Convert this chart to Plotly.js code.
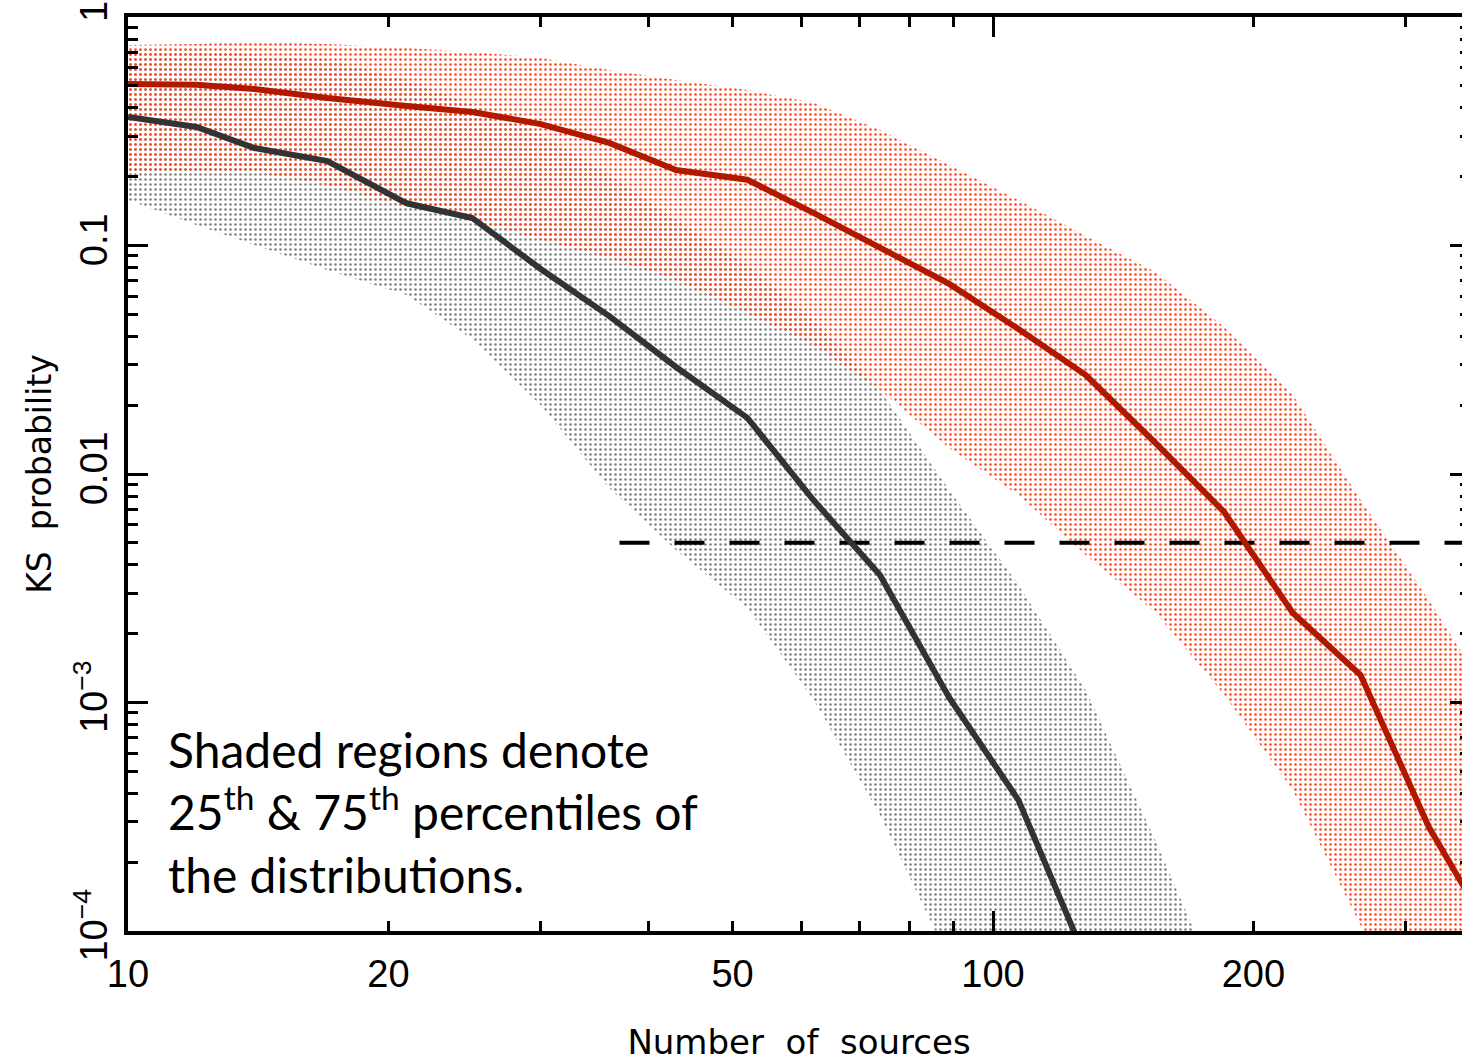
<!DOCTYPE html>
<html>
<head>
<meta charset="utf-8">
<script src="https://cdn.plot.ly/plotly-3.0.1.min.js"></script>
<style>
  html, body { margin: 0; padding: 0; overflow: hidden; background: #fff; }
  #chart { width: 1480px; height: 1062px; }
</style>
</head>
<body>
<div id="chart"></div>
<script>
// Sample sizes (number of sources) at which the KS test was evaluated
const nSources = [10, 12, 14, 17, 21, 25, 30, 36, 43, 52, 62, 74, 89, 107, 128, 154, 185, 222, 266, 319, 383];

// Black population: median KS probability and 25th / 75th percentiles
const blackMedian = [0.365, 0.330, 0.267, 0.234, 0.153, 0.132, 0.0789, 0.0491, 0.0294, 0.0176, 0.00769, 0.00361, 0.00105, 0.000374, 0.0000754];
const blackUpper  = [0.717, 0.717, 0.682, 0.648, 0.530, 0.412, 0.305, 0.204, 0.129, 0.0822, 0.0472, 0.0233, 0.00851, 0.00327, 0.00113, 0.000250, 0.0000499];
const blackLower  = [0.158, 0.123, 0.1005, 0.0781, 0.0607, 0.0390, 0.0200, 0.00869, 0.00465, 0.00259, 0.00103, 0.000322, 0.0000747];

// Red population: median KS probability and 25th / 75th percentiles
const redMedian = [0.509, 0.505, 0.484, 0.442, 0.408, 0.384, 0.340, 0.281, 0.214, 0.194, 0.139, 0.0975, 0.0679, 0.0431, 0.0271, 0.0137, 0.00682, 0.00247, 0.00132, 0.000285, 0.0000877];
const redUpper  = [0.754, 0.762, 0.777, 0.762, 0.732, 0.703, 0.662, 0.586, 0.530, 0.479, 0.421, 0.320, 0.225, 0.158, 0.110, 0.0766, 0.0440, 0.0222, 0.00769, 0.00281, 0.00093];
const redLower  = [0.210, 0.210, 0.210, 0.184, 0.147, 0.129, 0.106, 0.0882, 0.0707, 0.0507, 0.0367, 0.0233, 0.0130, 0.00809, 0.00442, 0.00249, 0.00108, 0.000414, 0.000106, 0.0000302, 0.0000110];

// Significance threshold
const threshold = 0.005;
const thresholdFrom = 37;
const thresholdTo = 400;

// Axis ticks
const xTickVals = [10, 20, 50, 100, 200];
const xTickText = ['10', '20', '50', '100', '200'];
const xMinorVals = [30, 40, 60, 70, 80, 90, 300];
const xDecadeVals = [10, 100];
const yTickVals = [1e-4, 1e-3, 0.01, 0.1, 1];
const yTickText = ['10<sup>\u22124</sup>', '10<sup>\u22123</sup>', '0.01', '0.1', '1'];
const yMinorVals = [];
[1e-4, 1e-3, 0.01, 0.1].forEach(d => { for (let m = 2; m <= 9; m++) yMinorVals.push(d * m); });

// Closed polygon outlining a percentile band
function band(xs, upper, lower) {
  const xu = xs.slice(0, upper.length);
  const xl = xs.slice(0, lower.length).reverse();
  return { x: xu.concat(xl), y: upper.concat(lower.slice().reverse()) };
}

const grayBand = band(nSources, blackUpper, blackLower);
const redBand = band(nSources, redUpper, redLower);

const traces = [
  {
    x: grayBand.x, y: grayBand.y, mode: 'none', fill: 'toself',
    fillcolor: 'rgba(0,0,0,0)',
    fillpattern: { shape: '.', fgcolor: '#7d7d7d', bgcolor: 'rgba(0,0,0,0)', size: 5, solidity: 0.2 },
    hoverinfo: 'skip', showlegend: false
  },
  {
    x: redBand.x, y: redBand.y, mode: 'none', fill: 'toself',
    fillcolor: 'rgba(0,0,0,0)',
    fillpattern: { shape: '.', fgcolor: '#ff4520', bgcolor: 'rgba(0,0,0,0)', size: 5, solidity: 0.2 },
    hoverinfo: 'skip', showlegend: false
  },
  {
    x: [thresholdFrom, thresholdTo], y: [threshold, threshold], mode: 'lines',
    line: { color: '#000', width: 4, dash: '30px,25px' }, showlegend: false
  },
  {
    x: nSources.slice(0, blackMedian.length), y: blackMedian, mode: 'lines',
    line: { color: '#333333', width: 6 }, showlegend: false
  },
  {
    x: nSources.slice(0, redMedian.length), y: redMedian, mode: 'lines',
    line: { color: '#b01800', width: 6 }, showlegend: false
  },
  // carries the long decade ticks of the overlaid x axis
  { x: [], y: [], xaxis: 'x2', mode: 'lines', showlegend: false, hoverinfo: 'skip' }
];

const tickFontX = { family: 'Liberation Sans, Arial, sans-serif', size: 38, color: '#000' };
const tickFontY = { family: 'Liberation Sans, Arial, sans-serif', size: 38, color: '#000' };
const titleFont = { family: 'DejaVu Sans, sans-serif', size: 34, color: '#000' };

const layout = {
  width: 1480, height: 1062,
  margin: { l: 128, r: 10, t: 17, b: 131 },
  paper_bgcolor: '#fff', plot_bgcolor: '#fff',
  showlegend: false,
  xaxis: {
    type: 'log', range: [1, 2.5514], autorange: false,
    tickmode: 'array', tickvals: xTickVals, ticktext: xTickText,
    ticks: 'inside', ticklen: 10, tickwidth: 3, tickcolor: '#000',
    minor: { tickmode: 'array', tickvals: xMinorVals, ticks: 'inside', ticklen: 10, tickwidth: 3, tickcolor: '#000', showgrid: false },
    showline: true, linewidth: 4, linecolor: '#000', mirror: 'ticks',
    showgrid: false, zeroline: false,
    tickfont: tickFontX, ticklabelstandoff: 6,
    title: { text: 'Number  of  sources', font: titleFont, standoff: 50 }
  },
  xaxis2: {
    type: 'log', range: [1, 2.5514], autorange: false, overlaying: 'x', anchor: 'y', side: 'bottom',
    tickmode: 'array', tickvals: xDecadeVals, showticklabels: false,
    ticks: 'inside', ticklen: 20, tickwidth: 3, tickcolor: '#000',
    showline: false, mirror: 'ticks', showgrid: false, zeroline: false
  },
  yaxis: {
    type: 'log', range: [-4, 0], autorange: false,
    tickmode: 'array', tickvals: yTickVals, ticktext: yTickText,
    ticks: 'inside', ticklen: 20, tickwidth: 3, tickcolor: '#000',
    minor: { tickmode: 'array', tickvals: yMinorVals, ticks: 'inside', ticklen: 10, tickwidth: 3, tickcolor: '#000', showgrid: false },
    showline: true, linewidth: 4, linecolor: '#000', mirror: 'ticks',
    showgrid: false, zeroline: false,
    tickangle: -90, tickfont: tickFontY, ticklabelstandoff: 2,
    title: { text: 'KS  probability', font: { family: 'DejaVu Sans, sans-serif', size: 33, color: '#000' }, standoff: 6 }
  },
  annotations: [{
    xref: 'paper', yref: 'paper', x: 0.028, y: 0.232, xanchor: 'left', yanchor: 'top', align: 'left',
    showarrow: false,
    text: 'Shaded regions denote<br>25<sup>th</sup> &amp; 75<sup>th</sup> percentiles of<br>the distributions.',
    font: { family: 'Lato, sans-serif', size: 48, color: '#000' }
  }]
};

Plotly.newPlot('chart', traces, layout, { staticPlot: true, displayModeBar: false });
</script>
</body>
</html>
